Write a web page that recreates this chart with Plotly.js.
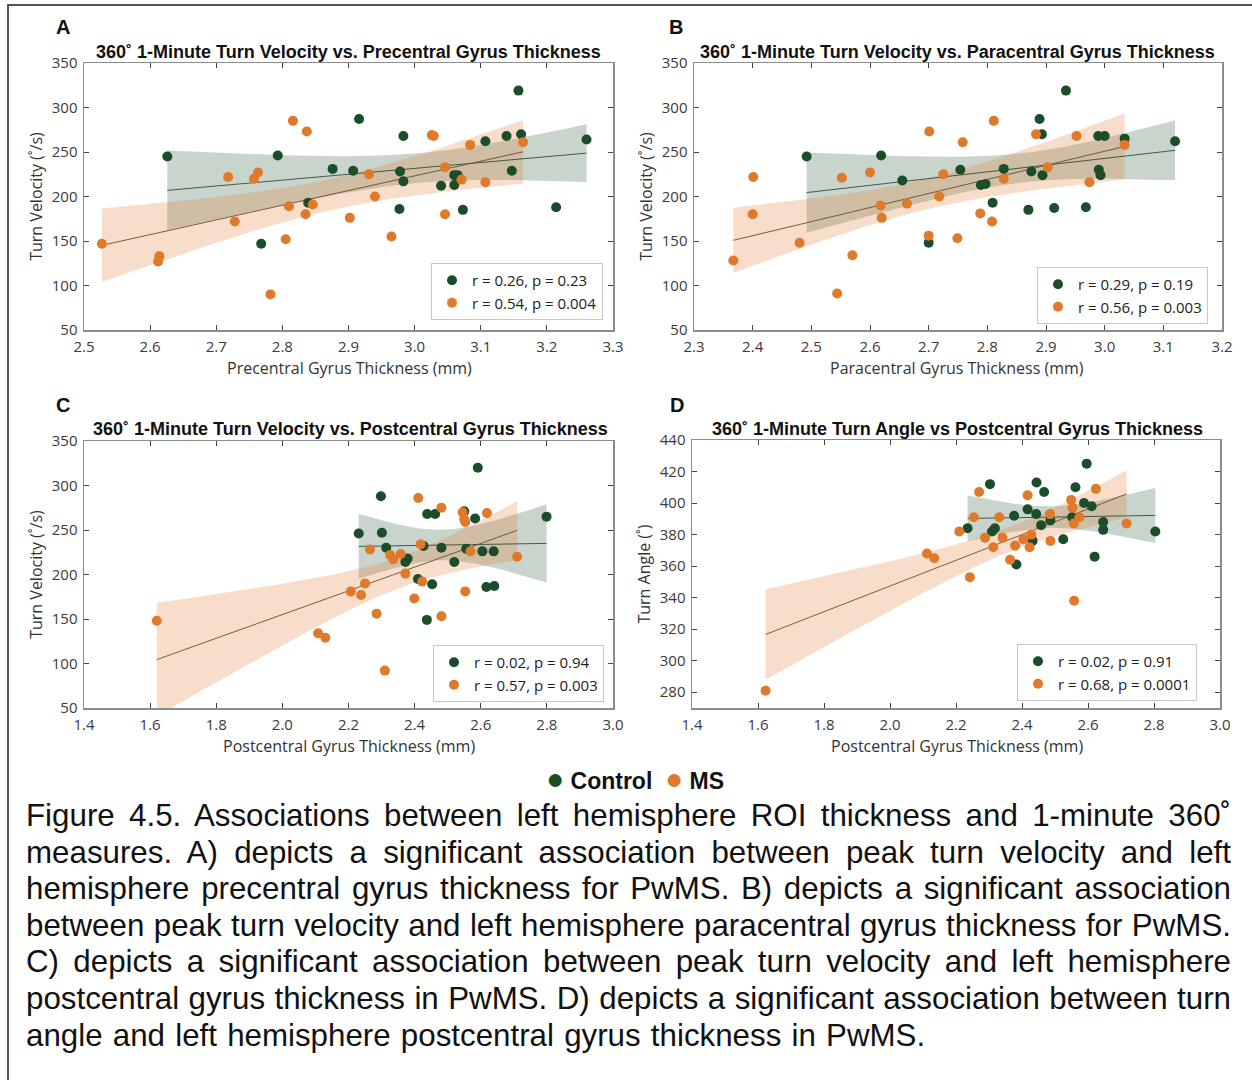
<!DOCTYPE html>
<html>
<head>
<meta charset="utf-8">
<script src="https://cdn.plot.ly/plotly-3.0.1.min.js"></script>
<style>
  html, body { margin: 0; padding: 0; background: #fff; }
  body { width: 1252px; height: 1080px; position: relative; overflow: hidden; }
  #frame { position: absolute; left: 7px; top: 4px; width: 1250px; height: 1080px;
           border-left: 2px solid #555; border-top: 2px solid #555; box-sizing: border-box; }
  #plot { position: absolute; left: 0; top: 0; width: 1252px; height: 800px; }
  #cap { position: absolute; left: 26px; top: 798px; width: 1205px;
         font-family: 'Liberation Sans', Arial, sans-serif; font-size: 31.3px; line-height: 36.6px; color: #111; }
  #cap div { text-align: justify; text-align-last: justify; white-space: nowrap; }
  #cap div.last { text-align: left; text-align-last: left; word-spacing: 1.5px; }
</style>
</head>
<body>
<div id="frame"></div>
<div id="plot"></div>
<div id="cap">
  <div>Figure 4.5. Associations between left hemisphere ROI thickness and 1-minute 360˚</div>
  <div>measures. A) depicts a significant association between peak turn velocity and left</div>
  <div>hemisphere precentral gyrus thickness for PwMS. B) depicts a significant association</div>
  <div>between peak turn velocity and left hemisphere paracentral gyrus thickness for PwMS.</div>
  <div>C) depicts a significant association between peak turn velocity and left hemisphere</div>
  <div>postcentral gyrus thickness in PwMS. D) depicts a significant association between turn</div>
  <div class="last">angle and left hemisphere postcentral gyrus thickness in PwMS.</div>
</div>
<script>
// ---------------- DATA ----------------
// Panel A: precentral gyrus thickness (mm) vs turn velocity (deg/s)
const aCtrlX = [2.626,2.793,2.876,2.839,2.768,2.916,2.983,2.907,2.978,2.983,2.977,3.157,3.139,3.161,3.107,3.260,3.147,3.040,3.060,3.065,3.060,3.073,3.214];
const aCtrlY = [245,246,231,193,147,287,268,229,228,217,186,319,268,270,262,264,229,212,224,224,213,185,188];
const aMsX = [2.816,2.837,2.718,2.763,2.757,2.810,2.846,2.835,2.728,2.805,2.527,2.614,2.612,2.782,3.026,3.029,3.084,3.046,2.931,3.164,3.071,3.107,2.940,2.902,3.046,2.965];
const aMsY = [285,273,222,227,220,189,191,180,172,152,147,133,127,90,269,268,258,233,225,261,219,216,200,176,180,155];

// Panel B: paracentral gyrus thickness (mm) vs turn velocity
const bCtrlX = [2.492,2.619,2.655,2.754,2.700,2.934,2.889,2.893,2.989,3.000,3.034,3.120,2.828,2.875,2.894,2.990,2.993,2.789,2.797,2.809,2.870,2.914,2.968];
const bCtrlY = [245,246,218,230,148,319,287,270,268,268,265,262,231,228,224,230,224,213,214,193,185,187,188];
const bMsX = [2.701,2.758,2.401,2.552,2.600,2.725,2.618,2.663,2.718,2.620,2.400,2.480,2.700,2.749,2.570,2.367,2.544,2.811,2.883,2.952,3.034,2.903,2.828,2.974,2.788,2.808];
const bMsY = [273,261,222,221,227,225,190,192,200,176,180,148,156,153,134,128,91,285,270,268,258,233,220,216,181,172];

// Panel C: postcentral gyrus thickness (mm) vs turn velocity
const cCtrlX = [2.591,2.298,2.438,2.462,2.550,2.583,2.799,2.231,2.301,2.314,2.427,2.481,2.556,2.605,2.639,2.379,2.372,2.520,2.410,2.453,2.617,2.641,2.437];
const cCtrlY = [320,288,268,268,271,263,265,246,247,230,232,230,229,226,226,218,214,214,195,189,186,187,149];
const cMsX = [1.620,2.108,2.130,2.411,2.481,2.545,2.619,2.550,2.553,2.418,2.265,2.569,2.358,2.326,2.335,2.710,2.372,2.423,2.250,2.207,2.238,2.553,2.399,2.285,2.481,2.310];
const cMsY = [148,134,129,286,275,270,269,262,259,234,228,226,223,222,217,220,201,192,190,181,177,181,173,156,153,92];

// Panel D: postcentral gyrus thickness (mm) vs turn angle (deg)
const dCtrlX = [2.596,2.303,2.444,2.562,2.467,2.588,2.611,2.417,2.376,2.443,2.552,2.486,2.458,2.646,2.646,2.235,2.318,2.309,2.804,2.525,2.432,2.383,2.620];
const dCtrlY = [425,412,413,410,407,400,398,396,392,393,391,389,386,388,383,384,384,382,382,377,376,361,366];
const dMsX = [1.623,2.112,2.134,2.210,2.270,2.417,2.624,2.549,2.553,2.254,2.331,2.485,2.574,2.557,2.717,2.288,2.341,2.428,2.404,2.486,2.313,2.379,2.423,2.364,2.242,2.558];
const dMsY = [281,368,365,382,407,405,409,402,397,391,391,393,391,387,387,378,378,380,377,376,372,373,372,364,353,338];

const legendTexts = {
  aCtrl: 'r = 0.26, p = 0.23',  aMs: 'r = 0.54, p = 0.004',
  bCtrl: 'r = 0.29, p = 0.19',  bMs: 'r = 0.56, p = 0.003',
  cCtrl: 'r = 0.02, p = 0.94',  cMs: 'r = 0.57, p = 0.003',
  dCtrl: 'r = 0.02, p = 0.91',  dMs: 'r = 0.68, p = 0.0001'
};
const panelTitles = [
  '360˚ 1-Minute Turn Velocity vs. Precentral Gyrus Thickness',
  '360˚ 1-Minute Turn Velocity vs. Paracentral Gyrus Thickness',
  '360˚ 1-Minute Turn Velocity vs. Postcentral Gyrus Thickness',
  '360˚ 1-Minute Turn Angle vs Postcentral Gyrus Thickness'
];
const xTitles = ['Precentral Gyrus Thickness (mm)','Paracentral Gyrus Thickness (mm)','Postcentral Gyrus Thickness (mm)','Postcentral Gyrus Thickness (mm)'];
const yTitles = ['Turn Velocity (˚/s)','Turn Velocity (˚/s)','Turn Velocity (˚/s)','Turn Angle (˚)'];
const panelLetters = ['A','B','C','D'];
const groupNames = ['Control','MS'];

// ---------------- STYLE ----------------
const GREEN = '#1b4d2b';
const ORANGE = '#e07a2a';
const GREEN_BAND = 'rgba(27,77,43,0.24)';
const ORANGE_BAND = 'rgba(228,122,42,0.25)';
const GREEN_LINE = 'rgba(40,70,50,0.85)';
const ORANGE_LINE = 'rgba(110,75,50,0.9)';

const W = 1252, H = 800;
const dx = (l, r) => [l / W, r / W];
const dy = (t, b) => [1 - b / H, 1 - t / H];

// ---------------- regression with 95% CI ----------------
function tcrit(df) {
  const z = 1.959964, z3 = z*z*z, z5 = z3*z*z, z7 = z5*z*z;
  return z + (z3 + z)/(4*df) + (5*z5 + 16*z3 + 3*z)/(96*df*df) + (3*z7 + 19*z5 + 17*z3 - 15*z)/(384*df*df*df);
}
function fit(xs, ys) {
  const n = xs.length;
  const mx = xs.reduce((s,v)=>s+v,0)/n, my = ys.reduce((s,v)=>s+v,0)/n;
  let sxx = 0, sxy = 0;
  for (let i = 0; i < n; i++) { sxx += (xs[i]-mx)**2; sxy += (xs[i]-mx)*(ys[i]-my); }
  const b = sxy / sxx, a = my - b*mx;
  let sse = 0;
  for (let i = 0; i < n; i++) sse += (ys[i] - a - b*xs[i])**2;
  const s = Math.sqrt(sse/(n-2)), t = tcrit(n-2);
  const x0 = Math.min(...xs), x1 = Math.max(...xs);
  const gx = [], fy = [], lo = [], hi = [];
  const N = 80;
  for (let k = 0; k <= N; k++) {
    const x = x0 + (x1 - x0)*k/N;
    const yh = a + b*x;
    const se = s*Math.sqrt(1/n + (x-mx)**2/sxx);
    gx.push(x); fy.push(yh); lo.push(yh - t*se); hi.push(yh + t*se);
  }
  return {gx, fy, lo, hi};
}

const panels = [
  {cx:aCtrlX, cy:aCtrlY, mx:aMsX, my:aMsY, lc:legendTexts.aCtrl, lm:legendTexts.aMs},
  {cx:bCtrlX, cy:bCtrlY, mx:bMsX, my:bMsY, lc:legendTexts.bCtrl, lm:legendTexts.bMs},
  {cx:cCtrlX, cy:cCtrlY, mx:cMsX, my:cMsY, lc:legendTexts.cCtrl, lm:legendTexts.cMs},
  {cx:dCtrlX, cy:dCtrlY, mx:dMsX, my:dMsY, lc:legendTexts.dCtrl, lm:legendTexts.dMs}
];

const traces = [];
panels.forEach((p, i) => {
  const xa = 'x' + (i === 0 ? '' : i+1), ya = 'y' + (i === 0 ? '' : i+1);
  const leg = 'legend' + (i === 0 ? '' : i+1);
  const fc = fit(p.cx, p.cy), fm = fit(p.mx, p.my);
  const band = (f, col) => ({
    type:'scatter', mode:'lines', xaxis:xa, yaxis:ya,
    x: f.gx.concat(f.gx.slice().reverse()),
    y: f.hi.concat(f.lo.slice().reverse()),
    fill:'toself', fillcolor: col, line:{width:0}, hoverinfo:'skip', showlegend:false
  });
  const line = (f, col) => ({
    type:'scatter', mode:'lines', xaxis:xa, yaxis:ya, x:f.gx, y:f.fy,
    line:{color:col, width:1}, hoverinfo:'skip', showlegend:false
  });
  traces.push(band(fc, GREEN_BAND));
  traces.push(band(fm, ORANGE_BAND));
  traces.push(line(fc, GREEN_LINE));
  traces.push(line(fm, ORANGE_LINE));
  traces.push({type:'scatter', mode:'markers', xaxis:xa, yaxis:ya, x:p.cx, y:p.cy,
    name:p.lc, legend:leg, marker:{color:GREEN, size:10}});
  traces.push({type:'scatter', mode:'markers', xaxis:xa, yaxis:ya, x:p.mx, y:p.my,
    name:p.lm, legend:leg, marker:{color:ORANGE, size:10}});
});

const tickFont = {family:'Open Sans, sans-serif', size:15, color:'#3a3a3a'};
const axTitleFont = {family:'Open Sans, sans-serif', size:16, color:'#333'};
function axis(domain, range, dtick, tick0, anchor, title, extra) {
  return Object.assign({
    domain, range, dtick, tick0, anchor, tickmode:'linear',
    showline:true, mirror:'ticks', linecolor:'#8c8c8c', linewidth:1.5,
    ticks:'inside', ticklen:5, tickwidth:1, tickcolor:'#444',
    showgrid:false, zeroline:false, tickfont:tickFont, fixedrange:true,
    ticklabelstandoff: 2
  }, title ? {title:title} : {}, extra || {});
}
const yT = t => ({text:t, font:axTitleFont, standoff:5});

const layout = {
  width: W, height: H,
  margin:{l:0, r:0, t:0, b:0},
  paper_bgcolor:'rgba(0,0,0,0)', plot_bgcolor:'#fff',
  showlegend:true,
  xaxis:  axis(dx(84,613),  [2.5,3.3], 0.1, 2.5, 'y',  null, {tickformat:'.1f'}),
  yaxis:  axis(dy(63,330),  [50,350],  50, 50,   'x',  yT(yTitles[0])),
  xaxis2: axis(dx(694,1222),[2.3,3.2], 0.1, 2.3, 'y2', null, {tickformat:'.1f'}),
  yaxis2: axis(dy(63,330),  [50,350],  50, 50,   'x2', yT(yTitles[1])),
  xaxis3: axis(dx(84,613),  [1.4,3.0], 0.2, 1.4, 'y3', null, {tickformat:'.1f'}),
  yaxis3: axis(dy(441,708), [50,350],  50, 50,   'x3', yT(yTitles[2])),
  xaxis4: axis(dx(692,1220),[1.4,3.0], 0.2, 1.4, 'y4', null, {tickformat:'.1f'}),
  yaxis4: axis(dy(440,708), [270,440], 20, 280,  'x4', yT(yTitles[3])),
  annotations: []
};

const legStyle = (xr, yb) => ({
  x: xr / W, y: 1 - yb / H, xanchor:'right', yanchor:'bottom',
  bgcolor:'#fff', bordercolor:'#c8c8c8', borderwidth:1,
  font:{family:'Open Sans, sans-serif', size:15, color:'#222'},
  traceorder:'normal', tracegroupgap:0, itemwidth:30
});
layout.legend  = legStyle(603, 320);
layout.legend2 = legStyle(1208, 324);
layout.legend3 = legStyle(604, 702);
layout.legend4 = legStyle(1197, 701);

// x-axis titles (placed as annotations right under the tick labels)
const xTitlePos = [[349,368],[957,368],[349,746],[957,746]];
xTitles.forEach((t, i) => {
  layout.annotations.push({text:t, xref:'paper', yref:'paper', x:xTitlePos[i][0]/W, y:1-xTitlePos[i][1]/H,
    xanchor:'center', yanchor:'middle', showarrow:false, font:axTitleFont});
});
// panel titles
const titlePos = [[348.5,52],[957.5,52],[350.5,429],[957,429]];
panelTitles.forEach((t, i) => {
  layout.annotations.push({text:t, xref:'paper', yref:'paper', x:titlePos[i][0]/W, y:1-titlePos[i][1]/H,
    xanchor:'center', yanchor:'middle', showarrow:false,
    font:{family:'Liberation Sans, Arial, sans-serif', size:18, color:'#111', weight:'bold'}});
});
// panel letters
const letterPos = [[63,27],[676,27],[63,405],[677,405]];
panelLetters.forEach((t, i) => {
  layout.annotations.push({text:t, xref:'paper', yref:'paper', x:letterPos[i][0]/W, y:1-letterPos[i][1]/H,
    xanchor:'center', yanchor:'middle', showarrow:false,
    font:{family:'Liberation Sans, Arial, sans-serif', size:20, color:'#111', weight:'bold'}});
});
// bottom group legend
const dot = c => '<span style="color:' + c + ';font-size:30px">●</span>';
layout.annotations.push({
  text: dot(GREEN) + '\u00a0' + groupNames[0] + '\u00a0\u00a0' + dot(ORANGE) + '\u00a0' + groupNames[1],
  xref:'paper', yref:'paper', x:635/W, y:1-778/H, xanchor:'center', yanchor:'middle', showarrow:false,
  font:{family:'Liberation Sans, Arial, sans-serif', size:23, color:'#111', weight:'bold'}
});

Plotly.newPlot('plot', traces, layout, {displayModeBar:false, staticPlot:true});
</script>
</body>
</html>
